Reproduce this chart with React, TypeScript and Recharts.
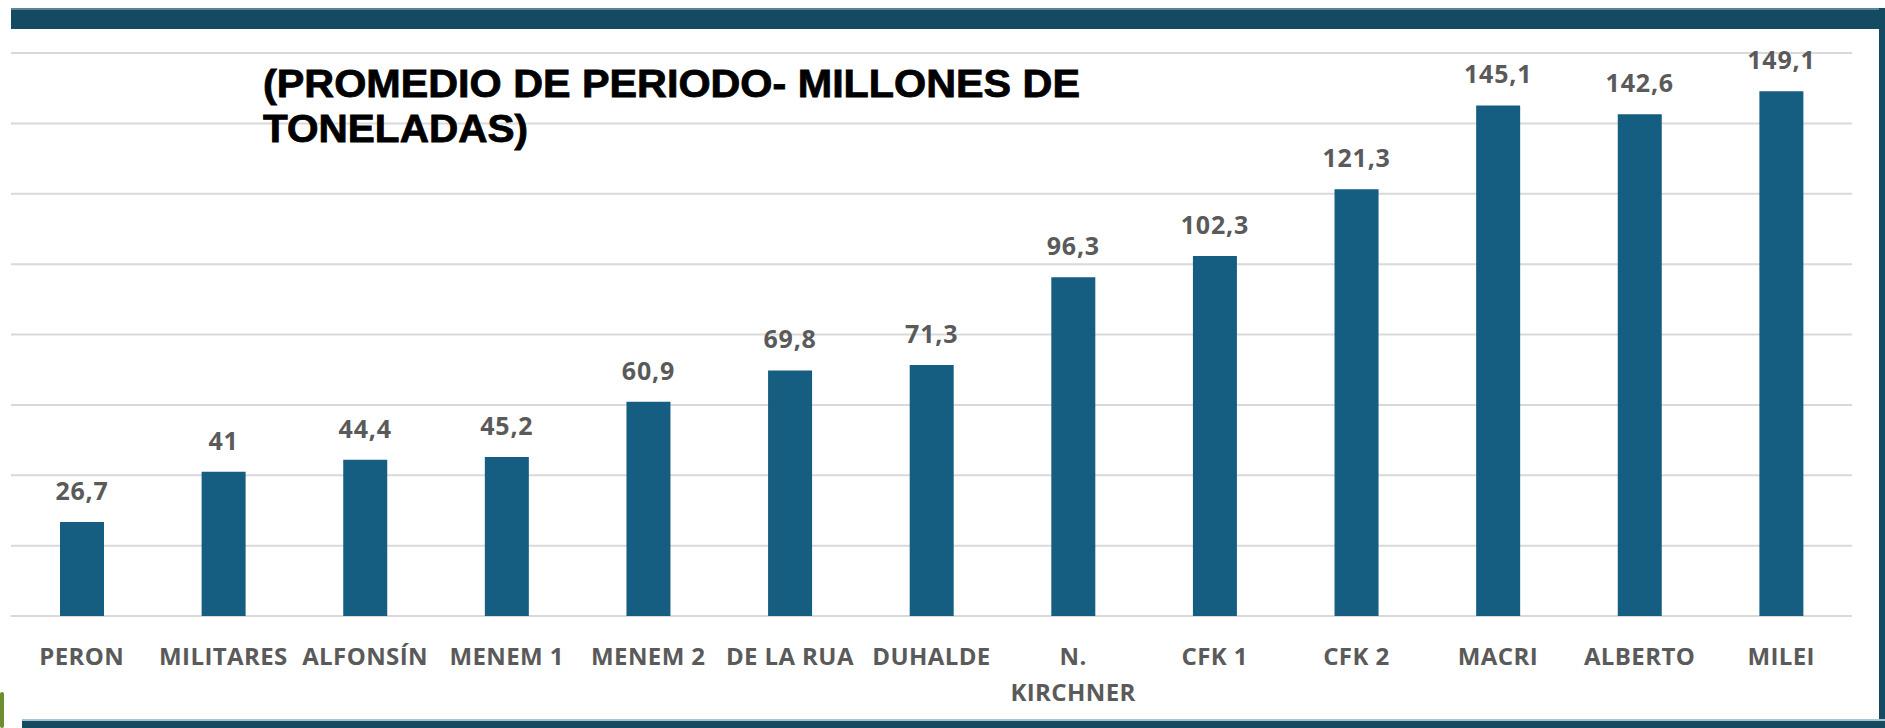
import { BarChart, Bar, XAxis, YAxis, CartesianGrid, LabelList } from 'recharts'

const periodos = [
  'PERON',
  'MILITARES',
  'ALFONSÍN',
  'MENEM 1',
  'MENEM 2',
  'DE LA RUA',
  'DUHALDE',
  'N. KIRCHNER',
  'CFK 1',
  'CFK 2',
  'MACRI',
  'ALBERTO',
  'MILEI',
]

const toneladas = [26.7, 41, 44.4, 45.2, 60.9, 69.8, 71.3, 96.3, 102.3, 121.3, 145.1, 142.6, 149.1]

const yTicks = [0, 20, 40, 60, 80, 100, 120, 140, 160]

const tituloLineas = ['(PROMEDIO DE PERIODO- MILLONES DE', 'TONELADAS)']

const data = periodos.map((p, i) => ({ periodo: p, valor: toneladas[i] }))

const BORDE = '#154a63'
const BARRA = '#165d82'
const GRIS = '#5a5a5a'

function fmt(v: number) {
  return String(v).replace('.', ',')
}

function PeriodoTick(props: any) {
  const { x, y, payload } = props
  const label: string = payload.value
  // etiquetas largas van en dos renglones
  const lineas = label.length > 10 ? label.split(' ') : [label]
  return (
    <text
      x={x}
      y={y}
      textAnchor="middle"
      fill={GRIS}
      fontSize={24}
      fontWeight={700}
      letterSpacing={0.4}
      fontFamily="'Open Sans', sans-serif"
    >
      {lineas.map((l, i) => (
        <tspan key={i} x={x} dy={i === 0 ? 41 : 36}>
          {l}
        </tspan>
      ))}
    </text>
  )
}

export default function App() {
  return (
    <div
      style={{
        position: 'absolute',
        left: 0,
        top: 0,
        width: 1885,
        height: 728,
        background: '#fff',
        overflow: 'hidden',
      }}
    >
      {/* marco */}
      <div style={{ position: 'absolute', left: 11, top: 8, width: 1874, height: 19, background: BORDE, borderTop: '2px solid #5d8396' }} />
      <div style={{ position: 'absolute', left: 1879, top: 8, width: 6, height: 720, background: BORDE }} />
      <div style={{ position: 'absolute', left: 22, top: 719, width: 1863, height: 9, background: BORDE, borderTop: '2px solid #a9c3cf' }} />
      <div style={{ position: 'absolute', left: 0, top: 692, width: 4, height: 36, background: '#6b8f2e', borderRadius: 2 }} />

      <div style={{ position: 'absolute', left: 0, top: 0 }}>
        <BarChart
          width={1885}
          height={728}
          data={data}
          margin={{ top: 53, right: 33, left: 11, bottom: 0 }}
        >
          <CartesianGrid vertical={false} stroke="#d9d9d9" strokeWidth={2} />
          <XAxis
            dataKey="periodo"
            axisLine={false}
            tickLine={false}
            interval={0}
            height={112}
            tick={<PeriodoTick />}
          />
          <YAxis hide domain={[0, 160]} ticks={yTicks} />
          <Bar dataKey="valor" fill={BARRA} barSize={44} isAnimationActive={false}>
            <LabelList
              dataKey="valor"
              position="top"
              offset={22}
              formatter={(v: any) => fmt(v)}
              fill={GRIS}
              fontSize={25}
              fontWeight={700}
              letterSpacing={0.8}
              fontFamily="'Open Sans', sans-serif"
            />
          </Bar>
        </BarChart>
      </div>

      <svg style={{ position: 'absolute', left: 0, top: 0 }} width={1885} height={200}>
        {tituloLineas.map((t, i) => (
          <text
            key={i}
            x={263}
            y={97 + i * 45}
            fontSize={38}
            fontWeight={700}
            fontFamily="'Liberation Sans', Arial, sans-serif"
            fill="#000"
            stroke="#000"
            strokeWidth={0.8}
            textLength={i === 0 ? 817 : 265}
            lengthAdjust="spacingAndGlyphs"
          >
            {t}
          </text>
        ))}
      </svg>
    </div>
  )
}
